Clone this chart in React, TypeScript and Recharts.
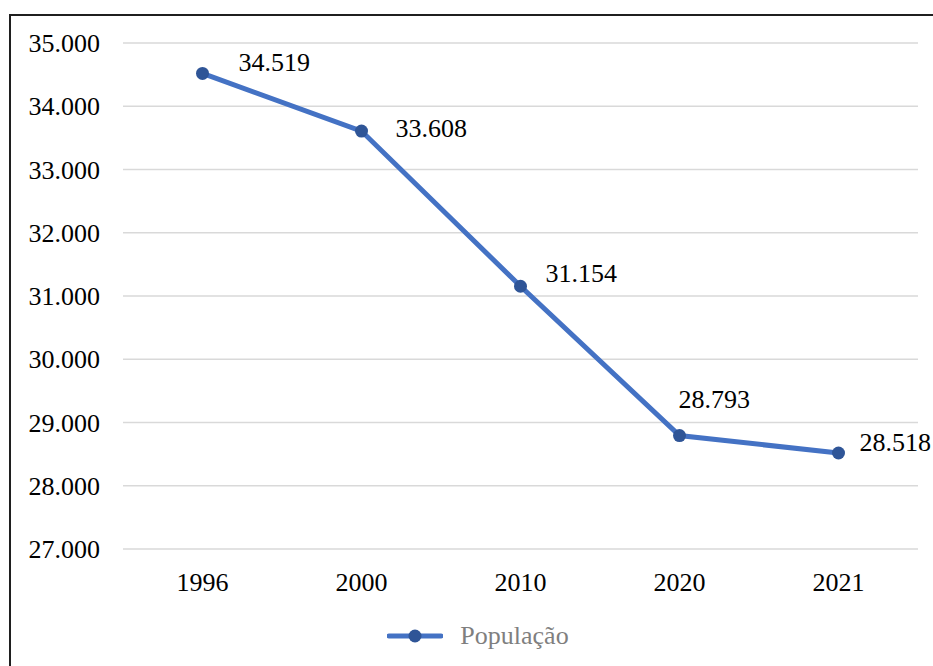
import React from "react";
import {
  LineChart,
  Line,
  XAxis,
  YAxis,
  CartesianGrid,
  Legend,
  LabelList,
} from "recharts";

// Population by year
const YEARS = ["1996", "2000", "2010", "2020", "2021"];
const POPULATION = [34519, 33608, 31154, 28793, 28518];
const Y_TICKS = [27000, 28000, 29000, 30000, 31000, 32000, 33000, 34000, 35000];
const SERIES_NAME = "População";

// hand-placed data labels, like in the original spreadsheet chart (dx to left edge, dy to centre)
const LABEL_OFFSETS: [number, number][] = [
  [36, -11],
  [34, -3],
  [25, -13],
  [-1, -36],
  [21, -10],
];

const LINE_COLOR = "#4472C4";
const DOT_COLOR = "#2F5597";
const GRID_COLOR = "#d9d9d9";
const FONT = "Liberation Serif, Times New Roman, serif";

const rows = YEARS.map((year, i) => ({ year, value: POPULATION[i] }));

function fmt(v: number): string {
  return String(Math.round(v)).replace(/\B(?=(\d{3})+(?!\d))/g, ".");
}

function PointLabel(props: any) {
  const { x, y, value, index } = props;
  const [dx, dy] = LABEL_OFFSETS[index] ?? [20, -10];
  return (
    <text
      x={x + dx}
      y={y + dy}
      textAnchor="start"
      dominantBaseline="central"
      style={{ fontFamily: FONT, fontSize: 26 }}
      fill="#000"
    >
      {fmt(value)}
    </text>
  );
}

function LegendContent() {
  return (
    <div
      style={{
        height: 60,
        display: "flex",
        alignItems: "center",
        justifyContent: "center",
        paddingLeft: 38,
      }}
    >
      <svg width={56} height={16} style={{ marginRight: 17 }}>
        <line x1={2} y1={8} x2={54} y2={8} stroke={LINE_COLOR} strokeWidth={5} strokeLinecap="round" />
        <circle cx={28} cy={8} r={6.5} fill={DOT_COLOR} />
      </svg>
      <span style={{ fontFamily: FONT, fontSize: 26, color: "#7f7f7f" }}>{SERIES_NAME}</span>
    </div>
  );
}

export default function App() {
  return (
    <div
      style={{
        position: "absolute",
        left: 0,
        top: 0,
        width: 933,
        height: 666,
        overflow: "hidden",
        background: "#fff",
        fontFamily: FONT,
      }}
    >
      <div
        style={{
          position: "absolute",
          left: 9,
          top: 14,
          width: 940,
          height: 700,
          border: "2px solid #1f1f1f",
          boxSizing: "border-box",
        }}
      />
      <div style={{ position: "absolute", left: 0, top: 0 }}>
        <LineChart
          width={933}
          height={666}
          data={rows}
          margin={{ top: 43, right: 15, left: 0, bottom: 0 }}
          style={{ fontFamily: FONT }}
        >
          <CartesianGrid vertical={false} stroke={GRID_COLOR} strokeWidth={1.5} />
          <XAxis
            dataKey="year"
            axisLine={false}
            tickLine={false}
            tickSize={0}
            tickMargin={24}
            height={57}
            padding={{ left: 79.5, right: 79.5 }}
            tick={{ fontSize: 26, fill: "#000", style: { fontFamily: FONT } }}
          />
          <YAxis
            domain={[27000, 35000]}
            ticks={Y_TICKS}
            tickFormatter={fmt}
            axisLine={false}
            tickLine={false}
            tickSize={0}
            tickMargin={23}
            width={123}
            tick={{ fontSize: 26, fill: "#000", style: { fontFamily: FONT } }}
          />
          <Legend verticalAlign="bottom" height={60} content={<LegendContent />} />
          <Line
            dataKey="value"
            name={SERIES_NAME}
            stroke={LINE_COLOR}
            strokeWidth={5}
            dot={{ r: 6.5, fill: DOT_COLOR, stroke: DOT_COLOR, strokeWidth: 0 }}
            activeDot={false}
            isAnimationActive={false}
          >
            <LabelList dataKey="value" content={<PointLabel />} />
          </Line>
        </LineChart>
      </div>
    </div>
  );
}
